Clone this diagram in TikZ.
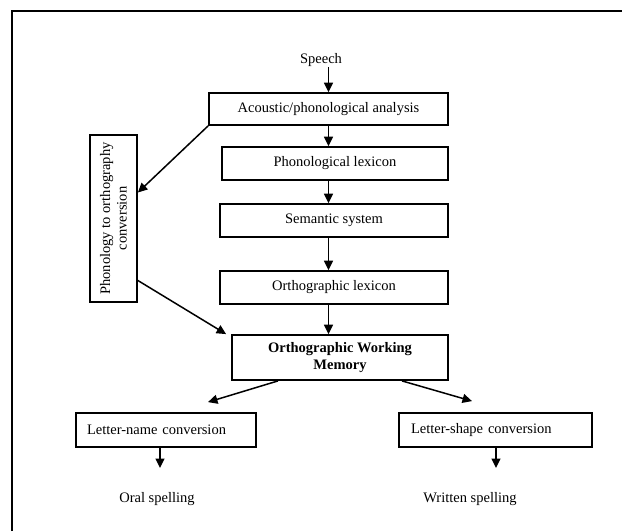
\documentclass[tikz,border=0pt]{standalone}
\usepackage{fontspec}
\setmainfont{Liberation Serif}
\usetikzlibrary{arrows.meta,positioning,calc}
\newcommand{\dfont}{\fontsize{14.5}{16.5}\selectfont}
\tikzset{
  sbox/.style={rectangle, draw=black, line width=1.8pt, inner sep=0pt,
               font=\dfont, align=center},
  sboxl/.style={sbox, align=left},
  slabel/.style={inner sep=0pt, font=\dfont, align=center},
  sarr/.style={-{Triangle[length=9.5pt,width=9pt]}, line width=1.5pt},
  frameline/.style={line width=1.3pt},
}
\begin{document}
\begin{tikzpicture}[x=1pt, y=-1pt]
\useasboundingbox (0,0) rectangle (622,531);
\draw[frameline] (12,531) -- (12,11) -- (622,11);
\node[slabel] (speech) at (321,60) {Speech};
\node[sbox, minimum width=239, minimum height=32] (acoustic) at (328.5,109) {Acoustic/phonological analysis};
\node[sbox, minimum width=226, minimum height=33] (phonlex) at (335,163.5) {Phonological lexicon};
\node[sbox, minimum width=228, minimum height=33] (semantic) at (334,220.5) {Semantic system};
\node[sbox, minimum width=228, minimum height=33] (ortholex) at (334,287.5) {Orthographic lexicon};
\node[sbox, minimum width=216, minimum height=45, font=\dfont\bfseries] (owm) at (340,357.5) {Orthographic Working\\Memory};
\node[sbox, minimum width=47, minimum height=167] (ptoo) at (113.5,218.5) {};
\node[slabel, rotate=90] (ptoolabel) at (ptoo.center) {Phonology to orthography\\conversion};
\node[sboxl, minimum width=180, minimum height=34, text width=158] (lname) at (166,430) {Letter-name conversion};
\node[sboxl, minimum width=193, minimum height=34, text width=169] (lshape) at (495.5,430) {Letter-shape conversion};
\node[slabel] (oral) at (157,499) {Oral spelling};
\node[slabel] (written) at (470,499) {Written spelling};
\coordinate (oralin) at (160,468);
\coordinate (writtenin) at (496,468);
\draw[sarr] (speech.south -| acoustic.south) -- (acoustic.north);
\draw[sarr] (acoustic.south) -- (acoustic.south |- phonlex.north);
\draw[sarr] (phonlex.south -| acoustic.south) -- (acoustic.south |- semantic.north);
\draw[sarr] (semantic.south -| acoustic.south) -- (acoustic.south |- ortholex.north);
\draw[sarr] (ortholex.south -| acoustic.south) -- (acoustic.south |- owm.north);
\draw[sarr] (acoustic.south west) -- ([yshift=26pt]ptoo.east);
\draw[sarr] ([yshift=-62pt]ptoo.east) -- ([xshift=-5pt]owm.north west);
\draw[sarr] ([xshift=-62pt]owm.south) -- ([xshift=42pt,yshift=10pt]lname.north);
\draw[sarr] ([xshift=62pt]owm.south) -- ([xshift=-23.5pt,yshift=11pt]lshape.north);
\draw[sarr] (lname.south -| oralin) -- (oralin);
\draw[sarr] (lshape.south -| writtenin) -- (writtenin);
\end{tikzpicture}
\end{document}
